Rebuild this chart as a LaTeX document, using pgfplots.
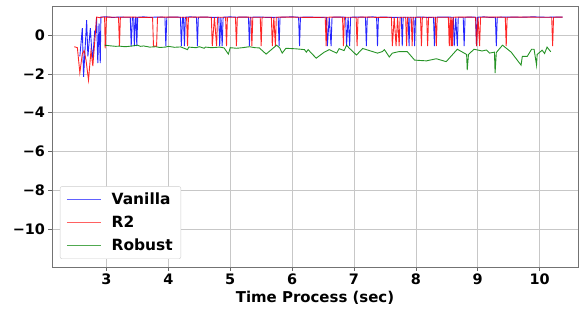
\documentclass[border=0pt]{standalone}
\usepackage{pgfplots}
\pgfplotsset{compat=1.18}
\usepackage{fontspec}
\setmainfont{DejaVu Sans}
\definecolor{mgreen}{RGB}{0,128,0}
\definecolor{lblue}{RGB}{70,70,255}
\definecolor{lred}{RGB}{255,70,70}
\definecolor{lgreen}{RGB}{50,155,50}
\begin{document}
\begin{tikzpicture}
\begin{axis}[
  scale only axis, width=526bp, height=261bp,
  xmin=2.12, xmax=10.62, ymin=-11.96, ymax=1.5,
  xtick={3,4,5,6,7,8,9,10},
  ytick={-10,-8,-6,-4,-2,0},
  yticklabels={−10,−8,−6,−4,−2,0},
  xtick pos=bottom, ytick pos=left,
  tick align=outside, major tick length=3.5bp,
  tick style={black!60, line width=0.6bp},
  axis line style={black!55, line width=0.8bp},
  grid=major, grid style={black!22, line width=0.7bp},
  /pgf/number format/assume math mode=true,
  ticklabel style={font=\fontsize{14.5}{17}\selectfont\bfseries},
  xlabel={Time Process (sec)},
  xlabel style={font=\fontsize{15}{18}\selectfont\bfseries, yshift=1bp},
  legend style={at={(0,0)}, anchor=south west, xshift=8bp, yshift=8bp,
    draw=black!20, rounded corners=2bp, fill=white,
    font=\fontsize{15.5}{18}\selectfont\bfseries, inner xsep=6bp, inner ysep=4.5bp, row sep=6bp,
    cells={anchor=west}},
  legend cell align=left,
]
\addplot[blue, line width=0.9bp, opacity=0.85, legend image code/.code={\draw[lblue, line width=1.5bp] (0bp,0bp) -- (34bp,0bp);}] coordinates {
(2.57,-1.1)(2.61,0.36)(2.63,-2.15)(2.68,0.77)(2.70,-1.1)(2.74,0.36)(2.76,-0.7)(2.78,-1.2)(2.81,0.2)(2.83,0.15)(2.84,0.93)(2.86,-1.44)(2.88,0.6)(2.90,-1.44)(2.91,0.93)
(3.0,0.94)(3.1,0.91)(3.2,0.93)(3.3,0.92)(3.385,0.92)(3.40,-0.57)(3.42,0.92)(3.44,0.92)(3.45,-0.57)(3.47,0.92)(3.48,0.92)(3.49,-0.57)(3.505,0.92)(3.6,0.94)(3.7,0.91)(3.8,0.93)(3.945,0.92)(3.96,-0.57)(3.975,0.92)(4.1,0.93)(4.195,0.92)(4.21,-0.57)(4.23,0.92)(4.245,0.92)(4.26,-0.57)(4.275,0.92)(4.35,0.94)(4.455,0.92)(4.47,-0.57)(4.485,0.92)(4.6,0.93)(4.7,0.91)(4.815,0.92)(4.83,-0.57)(4.85,0.92)(4.87,-0.57)(4.885,0.92)(5.0,0.94)(5.1,0.92)(5.2,0.93)(5.295,0.92)(5.31,-0.57)(5.325,0.92)(5.5,0.93)(5.6,0.91)(5.775,0.92)(5.79,-0.57)(5.805,0.92)(5.9,0.93)(6.0,0.94)(6.105,0.92)(6.12,-0.57)(6.135,0.92)(6.3,0.93)(6.4,0.91)(6.555,0.92)(6.57,-0.57)(6.60,0.92)(6.63,-0.57)(6.645,0.92)(6.75,0.93)(6.865,0.92)(6.88,-0.57)(6.905,0.92)(6.93,-0.57)(6.945,0.92)(7.05,0.93)(7.185,0.92)(7.20,-0.57)(7.215,0.92)(7.3,0.94)(7.365,0.92)(7.38,-0.57)(7.395,0.92)(7.5,0.93)(7.6,0.91)(7.765,0.92)(7.78,-0.57)(7.795,0.92)(7.875,0.92)(7.89,-0.57)(7.905,0.92)(7.965,0.92)(7.98,-0.57)(7.995,0.92)(8.1,0.93)(8.2,0.91)(8.285,0.92)(8.30,-0.57)(8.315,0.92)(8.45,0.93)(8.605,0.92)(8.62,-0.57)(8.645,0.92)(8.67,-0.57)(8.685,0.92)(8.765,0.92)(8.78,-0.57)(8.795,0.92)(8.9,0.93)(8.965,0.92)(8.98,-0.57)(8.995,0.92)(9.1,0.94)(9.2,0.91)(9.285,0.92)(9.30,-0.57)(9.315,0.92)(9.5,0.93)(9.7,0.92)(9.9,0.94)(10.1,0.92)(10.37,0.93)
};
\addlegendentry{\hspace{8bp}Vanilla}
\addplot[red, line width=0.9bp, opacity=0.85, legend image code/.code={\draw[lred, line width=1.5bp] (0bp,0bp) -- (34bp,0bp);}] coordinates {
(2.48,-0.6)(2.53,-0.65)(2.57,-1.94)(2.61,-0.97)(2.64,-0.8)(2.67,-1.3)(2.71,-2.32)(2.75,-0.8)(2.78,-1.6)(2.82,0.05)(2.84,0.93)(2.89,0.9)(2.94,0.93)(2.97,0.93)(2.98,-0.68)(3.0,0.93)(3.1,0.92)(3.195,0.92)(3.21,-0.57)(3.225,0.92)(3.4,0.93)(3.6,0.91)(3.745,0.92)(3.76,-0.57)(3.81,-0.57)(3.825,0.92)(4.0,0.93)(4.2,0.92)(4.295,0.92)(4.31,-0.57)(4.325,0.92)(4.5,0.93)(4.695,0.92)(4.71,-0.57)(4.745,0.92)(4.78,-0.57)(4.795,0.92)(4.925,0.92)(4.94,-0.57)(4.955,0.92)(5.085,0.92)(5.10,-0.57)(5.115,0.92)(5.2,0.93)(5.335,0.92)(5.35,-0.57)(5.365,0.92)(5.485,0.92)(5.50,-0.57)(5.515,0.92)(5.665,0.92)(5.68,-0.57)(5.705,0.92)(5.73,-0.57)(5.745,0.92)(5.9,0.93)(6.1,0.92)(6.3,0.91)(6.535,0.92)(6.55,-0.57)(6.565,0.92)(6.7,0.93)(6.815,0.92)(6.83,-0.57)(6.845,0.92)(7.035,0.92)(7.05,-0.57)(7.065,0.92)(7.2,0.93)(7.4,0.91)(7.605,0.92)(7.62,-0.57)(7.65,0.92)(7.68,-0.57)(7.705,0.92)(7.73,-0.57)(7.745,0.92)(7.835,0.92)(7.85,-0.57)(7.865,0.92)(7.925,0.92)(7.94,-0.57)(7.955,0.92)(8.075,0.92)(8.09,-0.57)(8.105,0.92)(8.175,0.92)(8.19,-0.57)(8.205,0.92)(8.315,0.92)(8.33,-0.57)(8.345,0.92)(8.525,0.92)(8.54,-0.57)(8.555,0.92)(8.57,-0.57)(8.58,0.92)(8.59,-0.57)(8.605,0.92)(8.7,0.93)(8.965,0.92)(8.98,-0.57)(9.005,0.92)(9.03,-0.57)(9.045,0.92)(9.2,0.93)(9.445,0.92)(9.46,-0.57)(9.475,0.92)(9.7,0.93)(10.0,0.92)(10.195,0.92)(10.21,-0.57)(10.225,0.92)(10.37,0.93)
};
\addlegendentry{\hspace{8bp}R2}
\addplot[mgreen, line width=0.9bp, opacity=0.85, legend image code/.code={\draw[lgreen, line width=1.5bp] (0bp,0bp) -- (34bp,0bp);}] coordinates {
(2.97,-0.52)(3.05,-0.55)(3.15,-0.58)(3.21,-0.57)(3.3,-0.6)(3.4,-0.57)(3.5,-0.52)(3.55,-0.58)(3.6,-0.56)(3.7,-0.62)(3.8,-0.60)(3.86,-0.64)(3.95,-0.62)(4.0,-0.58)(4.1,-0.63)(4.2,-0.61)(4.31,-0.75)(4.33,-0.62)(4.45,-0.65)(4.5,-0.60)(4.58,-0.68)(4.6,-0.62)(4.7,-0.65)(4.83,-0.62)(4.9,-0.66)(4.97,-0.98)(5.0,-0.65)(5.1,-0.68)(5.2,-0.65)(5.31,-0.60)(5.4,-0.65)(5.47,-0.66)(5.58,-0.98)(5.75,-0.52)(5.8,-0.66)(5.84,-0.93)(5.9,-0.68)(6.07,-0.71)(6.2,-0.75)(6.23,-0.88)(6.26,-0.75)(6.31,-0.93)(6.39,-1.19)(6.52,-0.88)(6.6,-0.75)(6.72,-0.93)(6.76,-0.70)(6.84,-0.80)(6.88,-0.52)(6.93,-0.70)(6.95,-0.75)(7.04,-1.03)(7.14,-0.69)(7.38,-0.93)(7.46,-0.85)(7.49,-0.75)(7.52,-0.88)(7.57,-1.13)(7.62,-0.93)(7.73,-0.85)(7.86,-0.85)(7.98,-1.29)(8.17,-1.33)(8.33,-1.22)(8.49,-1.37)(8.67,-0.73)(8.82,-1.0)(8.83,-1.8)(8.85,-1.0)(8.94,-0.73)(9.07,-0.82)(9.14,-0.77)(9.19,-0.93)(9.27,-0.88)(9.28,-1.96)(9.30,-0.9)(9.40,-0.52)(9.54,-0.88)(9.70,-1.55)(9.72,-1.1)(9.80,-1.1)(9.87,-0.73)(9.91,-0.73)(9.95,-1.55)(9.96,-1.0)(10.04,-0.78)(10.08,-0.95)(10.12,-0.62)(10.18,-0.86)
};
\addlegendentry{\hspace{8bp}Robust}
\end{axis}
\path (-52bp,-44bp) rectangle (527bp,267bp);
\end{tikzpicture}
\end{document}
